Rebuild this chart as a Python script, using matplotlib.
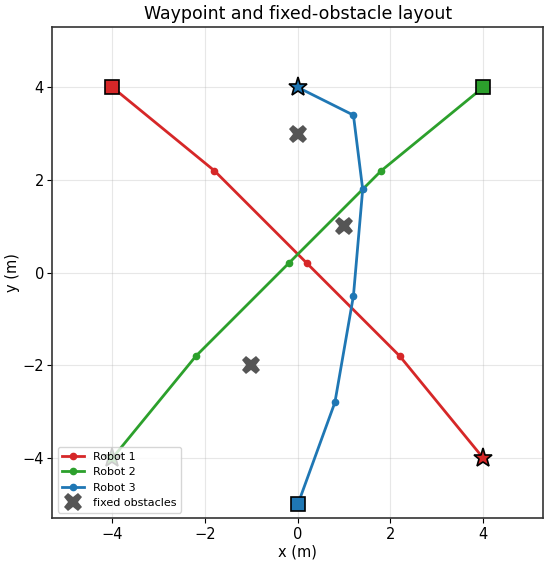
import numpy as np
import matplotlib.pyplot as plt

# waypoint paths for each robot (start, waypoints, goal)
r1_x = [-4, -1.8, 0.2, 2.2, 4]
r1_y = [4, 2.2, 0.2, -1.8, -4]
r2_x = [4, 1.8, -0.2, -2.2, -4]
r2_y = [4, 2.2, 0.2, -1.8, -4]
r3_x = [0, 0.8, 1.2, 1.4, 1.2, 0]
r3_y = [-5, -2.8, -0.5, 1.8, 3.4, 4]

obs_x = [0, 1, -1]
obs_y = [3, 1, -2]

robots = [('Robot 1', r1_x, r1_y, '#d62728'),
          ('Robot 2', r2_x, r2_y, '#2ca02c'),
          ('Robot 3', r3_x, r3_y, '#1f77b4')]

fig = plt.figure(figsize=(5.5, 5.64), dpi=100)
ax = fig.add_axes([0.095, 0.081, 0.893, 0.871])

for name, xs, ys, col in robots:
    ax.plot(xs, ys, '-o', color=col, lw=2, ms=4.5, label=name)
    # start square, goal star
    ax.plot(xs[0], ys[0], 's', color=col, ms=10, mec='black', mew=1.2)
    ax.plot(xs[-1], ys[-1], '*', color=col, ms=14, mec='black', mew=1.2)

ax.plot(obs_x, obs_y, 'X', color='#555555', ms=13, mew=0, ls='none', label='fixed obstacles')

ax.set_xlim(-5.3, 5.3)
ax.set_ylim(-5.3, 5.3)
ax.set_aspect('equal')
ax.grid(True, alpha=0.3)
for sp in ax.spines.values():
    sp.set_color('#333333')
    sp.set_linewidth(1.2)
ax.tick_params(labelsize=10.5, pad=2.5)
ax.set_xlabel('x (m)', fontsize=10.5, labelpad=2)
ax.set_ylabel('y (m)', fontsize=10.5, labelpad=2)
ax.set_title('Waypoint and fixed-obstacle layout', fontsize=12.5)
ax.legend(loc='lower left', fontsize=8)

fig.savefig('out.png')
